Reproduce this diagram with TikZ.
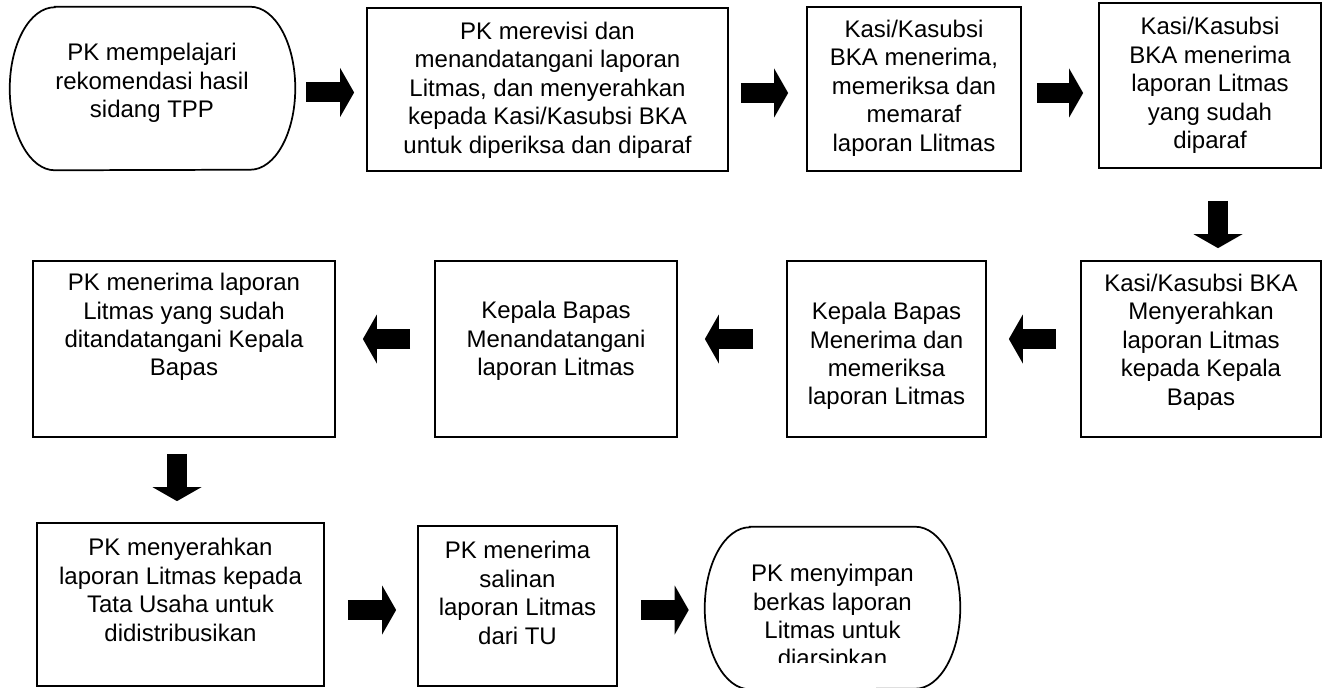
\documentclass[tikz,border=0pt]{standalone}
\usepackage{fontspec}
\setmainfont{Liberation Sans}
\usetikzlibrary{arrows.meta, calc, fit}

\tikzset{
  frame/.style={draw, line width=1.3pt, inner sep=0pt},
  blank/.style={inner sep=0pt},
  txt/.style={align=center, inner sep=0pt, font=\fontsize{18}{21.3}\selectfont},
  blockarrow/.style={line width=15pt, -{Triangle[length=10.5pt, width=36.75pt, line width=0pt]}}
}

\begin{document}
\begin{tikzpicture}[x=0.75pt, y=-0.75pt]
    \useasboundingbox (0,0) rectangle (1327,688);

    % First row
    \node[blank, fit={(10,7) (295,170)}] (pelajari) {};
    \draw[line width=1.3pt] ($(pelajari.north west)+(45,0)$) -- ($(pelajari.north east)+(-45,0)$)
        arc[start angle=-90, end angle=90, x radius=45, y radius=81.5]
        -- ($(pelajari.south west)+(45,0)$)
        arc[start angle=90, end angle=270, x radius=45, y radius=81.5] -- cycle;
    \node[txt] (pelajaritxt) at (152,83) {PK mempelajari\\rekomendasi hasil\\sidang TPP};

    \node[frame, fit={(367,8) (728,171)}] (revisi) {};
    \node[txt] (revisitxt) at (547.5,90) {PK merevisi dan\\menandatangani laporan\\Litmas, dan menyerahkan\\kepada Kasi/Kasubsi BKA\\untuk diperiksa dan diparaf};

    \node[frame, fit={(807,7) (1021,171)}] (paraf) {};
    \node[txt] (paraftxt) at (914,88) {Kasi/Kasubsi\\BKA menerima,\\memeriksa dan\\memaraf\\laporan Llitmas};

    \node[frame, fit={(1099,3) (1321,168)}] (terima) {};
    \node[txt] (terimatxt) at (1210,85.5) {Kasi/Kasubsi\\BKA menerima\\laporan Litmas\\yang sudah\\diparaf};

    % Second row
    \node[frame, fit={(1081,261) (1321,437)}] (serahkan) {};
    \node[txt] (serahkantxt) at (1201,342) {Kasi/Kasubsi BKA\\Menyerahkan\\laporan Litmas\\kepada Kepala\\Bapas};

    \node[frame, fit={(787,261) (986,437)}] (kabapas) {};
    \node[txt] (kabapastxt) at (886.5,356) {Kepala Bapas\\Menerima dan\\memeriksa\\laporan Litmas};

    \node[frame, fit={(435,261) (677,437)}] (ttd) {};
    \node[txt] (ttdtxt) at (556,341) {Kepala Bapas\\Menandatangani\\laporan Litmas};

    \node[frame, fit={(33,261) (335,437)}] (kembali) {};
    \node[txt] (kembalitxt) at (184,327) {PK menerima laporan\\Litmas yang sudah\\ditandatangani Kepala\\Bapas};

    % Third row
    \node[frame, fit={(37,523) (324,686)}] (tu) {};
    \node[txt] (tutxt) at (180.5,590) {PK menyerahkan\\laporan Litmas kepada\\Tata Usaha untuk\\didistribusikan};

    \node[frame, fit={(418,526) (617,686)}] (salinan) {};
    \node[txt] (salinantxt) at (517.5,593) {PK menerima\\salinan\\laporan Litmas\\dari TU};

    \node[blank, fit={(705,527) (960,689)}] (arsip) {};
    \draw[line width=1.3pt] ($(arsip.north west)+(45,0)$) -- ($(arsip.north east)+(-45,0)$)
        arc[start angle=-90, end angle=90, x radius=45, y radius=81]
        -- ($(arsip.south west)+(45,0)$)
        arc[start angle=90, end angle=270, x radius=45, y radius=81] -- cycle;
    \begin{scope}
        \clip (700,520) rectangle (965,662);
        \node[txt] (arsiptxt) at (832.5,618) {PK menyimpan\\berkas laporan\\Litmas untuk\\diarsipkan};
    \end{scope}

    % Block arrows
    \draw[blockarrow] ($(pelajari.east)+(11,4)$) -- ($(revisi.west)+(-12,3)$);
    \draw[blockarrow] ($(revisi.east)+(12,3.5)$) -- ($(paraf.west)+(-18,4)$);
    \draw[blockarrow] ($(paraf.east)+(15,4)$) -- ($(terima.west)+(-15,7.5)$);
    \draw[blockarrow] ($(terima.south)+(8,32)$) -- ($(serahkan.north)+(17,-12)$);
    \draw[blockarrow] ($(serahkan.west)+(-24,-10)$) -- ($(kabapas.east)+(22,-10)$);
    \draw[blockarrow] ($(kabapas.west)+(-33,-10)$) -- ($(ttd.east)+(27,-10)$);
    \draw[blockarrow] ($(ttd.west)+(-24,-10)$) -- ($(kembali.east)+(27,-10)$);
    \draw[blockarrow] ($(kembali.south)+(-7,16)$) -- ($(tu.north)+(-3.5,-21)$);
    \draw[blockarrow] ($(tu.east)+(23,5.5)$) -- ($(salinan.west)+(-21,4)$);
    \draw[blockarrow] ($(salinan.east)+(23,4)$) -- ($(arsip.west)+(-16,2)$);
\end{tikzpicture}
\end{document}
